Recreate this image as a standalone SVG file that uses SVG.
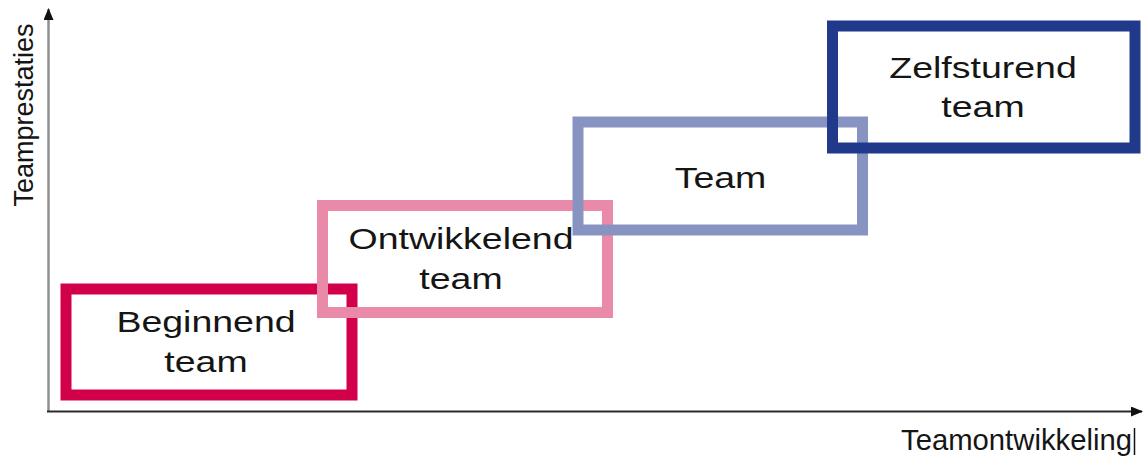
<svg xmlns="http://www.w3.org/2000/svg" width="1143" height="457" viewBox="0 0 1143 457">
  <style>
    .box { fill: none; stroke-width: 11; }
    .lbl { font-family: "Liberation Sans", Arial, sans-serif; font-size: 30px; fill: #151515; text-anchor: middle; }
    .axl { font-family: "Liberation Sans", Arial, sans-serif; fill: #151515; }
  </style>
  <defs>
    <marker id="arr" markerWidth="12" markerHeight="10" refX="11" refY="5" orient="auto" markerUnits="userSpaceOnUse">
      <path d="M0,0 L12,5 L0,10 Z" fill="#111"/>
    </marker>
  </defs>
  <rect width="1143" height="457" fill="#fff"/>
  <g id="axes">
    <line x1="48.5" y1="412" x2="48.5" y2="9" stroke="#8f8f8f" stroke-width="2.5" marker-end="url(#arr)"/>
    <line x1="47" y1="411.5" x2="1142" y2="411.5" stroke="#2a2a2a" stroke-width="2" marker-end="url(#arr)"/>
  </g>
  <g id="axis-labels">
    <text class="axl" font-size="27" text-anchor="middle" transform="translate(33,115) rotate(-90)">Teamprestaties</text>
    <text class="axl" font-size="29" x="901" y="450" textLength="231" lengthAdjust="spacingAndGlyphs">Teamontwikkeling</text>
    <line x1="1134.5" y1="428" x2="1134.5" y2="455" stroke="#111" stroke-width="1.5"/>
  </g>
  <g id="beginnend">
    <rect class="box" x="66" y="289" width="286" height="106" stroke="#D2004A"/>
    <g transform="translate(206,0) scale(1.25,1)">
      <text class="lbl" x="0" y="332">Beginnend</text>
      <text class="lbl" x="0" y="372">team</text>
    </g>
  </g>
  <g id="ontwikkelend">
    <rect class="box" x="322.5" y="205.5" width="285" height="107" stroke="#E98AA9"/>
    <g transform="translate(461,0) scale(1.25,1)">
      <text class="lbl" x="0" y="249">Ontwikkelend</text>
      <text class="lbl" x="0" y="289">team</text>
    </g>
  </g>
  <g id="team">
    <rect class="box" x="578" y="122" width="284.5" height="108" stroke="#8794C2"/>
    <g transform="translate(720.5,0) scale(1.25,1)">
      <text class="lbl" x="0" y="188">Team</text>
    </g>
  </g>
  <g id="zelfsturend">
    <rect class="box" x="832.5" y="26" width="302.5" height="122" stroke="#21398A"/>
    <g transform="translate(983,0) scale(1.25,1)">
      <text class="lbl" x="0" y="78">Zelfsturend</text>
      <text class="lbl" x="0" y="117">team</text>
    </g>
  </g>
</svg>
